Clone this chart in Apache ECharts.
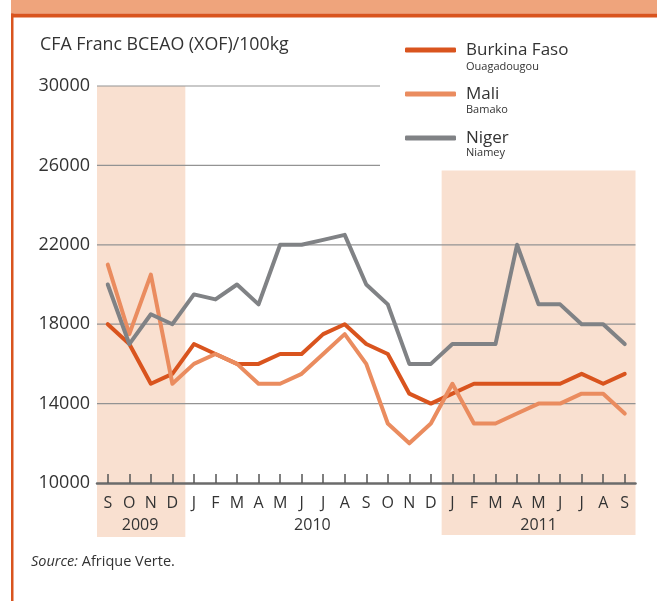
<!DOCTYPE html>
<html>
<head>
<meta charset="utf-8">
<script src="https://cdn.jsdelivr.net/npm/echarts@6/dist/echarts.min.js"></script>
<style>
html,body{margin:0;padding:0;background:#fff;}
#c{width:657px;height:601px;}
</style>
</head>
<body>
<div id="c"></div>
<script>
const categories = ['2009-09','2009-10','2009-11','2009-12','2010-01','2010-02','2010-03','2010-04','2010-05','2010-06','2010-07','2010-08','2010-09','2010-10','2010-11','2010-12','2011-01','2011-02','2011-03','2011-04','2011-05','2011-06','2011-07','2011-08','2011-09'];
const monthLabels = ['S','O','N','D','J','F','M','A','M','J','J','A','S','O','N','D','J','F','M','A','M','J','J','A','S'];
const burkina = [18000,17000,15000,15500,17000,16500,16000,16000,16500,16500,17500,18000,17000,16500,14500,14000,14500,15000,15000,15000,15000,15000,15500,15000,15500];
const mali = [21000,17500,20500,15000,16000,16500,16000,15000,15000,15500,16500,17500,16000,13000,12000,13000,15000,13000,13000,13500,14000,14000,14500,14500,13500];
const niger = [20000,17000,18500,18000,19500,19250,20000,19000,22000,22000,22250,22500,20000,19000,16000,16000,17000,17000,17000,22000,19000,19000,18000,18000,17000];
const yTicks = [10000,14000,18000,22000,26000,30000];
const seriesNames = ['Burkina Faso','Mali','Niger'];
const cities = ['Ouagadougou','Bamako','Niamey'];
const years = [{label:'2009',from:0,to:3},{label:'2010',from:4,to:15},{label:'2011',from:16,to:24}];

const FONT = '"Open Sans", sans-serif';
const colors = ['#d9541e','#ea8c5f','#808285'];

const chart = echarts.init(document.getElementById('c'), null, {renderer:'canvas'});
const option = {
  animation:false,
  color:colors,
  textStyle:{fontFamily:FONT},
  grid:{left:97,right:21.5,top:86,bottom:118,containLabel:false},
  legend:{
    orient:'vertical', left:405, top:40, padding:0,
    data:seriesNames,
    icon:'roundRect', itemWidth:51, itemHeight:5, itemGap:24,
    textStyle:{fontFamily:FONT,fontSize:17,color:'#333',lineHeight:20,padding:[0,0,0,5]},
    selectedMode:false
  },
  xAxis:{
    type:'category', data:categories, boundaryGap:true,
    axisLine:{lineStyle:{color:'#6b6b6b',width:2.5}},
    axisTick:{show:true,alignWithLabel:true,inside:true,length:9,lineStyle:{color:'#555',width:1.5}},
    axisLabel:{interval:0,margin:12,fontFamily:FONT,fontSize:16,color:'#333',
      formatter:(v,i)=>monthLabels[i]},
    splitLine:{show:false}
  },
  yAxis:{
    type:'value', min:10000, max:30000, interval:4000,
    axisLine:{show:false}, axisTick:{show:false},
    axisLabel:{margin:7,fontFamily:FONT,fontSize:18,color:'#333',formatter:v=>String(v)},
    splitLine:{show:false}
  },
  series:[
    {name:seriesNames[0],type:'line',data:burkina,symbol:'none',lineStyle:{width:4,color:colors[0],cap:'round',join:'round'},itemStyle:{color:colors[0]},z:3},
    {name:seriesNames[1],type:'line',data:mali,symbol:'none',lineStyle:{width:4,color:colors[1],cap:'round',join:'round'},itemStyle:{color:colors[1]},z:4},
    {name:seriesNames[2],type:'line',data:niger,symbol:'none',lineStyle:{width:4,color:colors[2],cap:'round',join:'round'},itemStyle:{color:colors[2]},z:5}
  ]
};
chart.setOption(option);

const px = i => chart.convertToPixel({xAxisIndex:0}, i);
const py = v => chart.convertToPixel({yAxisIndex:0}, v);
const bw = px(1) - px(0);
const xStart = px(0) - bw/2;
const xEnd = px(categories.length-1) + bw/2;
const axisY = py(10000);
const g = [];
// frame
g.push({type:'rect',shape:{x:11,y:0,width:646,height:13.5},style:{fill:'#efa47c'},z:0});
g.push({type:'rect',shape:{x:11,y:13.5,width:646,height:4},style:{fill:'#d9541e'},z:0});
g.push({type:'rect',shape:{x:11,y:13.5,width:2.5,height:601},style:{fill:'#d9541e'},z:0});
// shading
g.push({type:'rect',shape:{x:xStart,y:py(30000),width:(px(years[0].to)+bw*0.6)-xStart,height:axisY+54-py(30000)},style:{fill:'#f9e0d0'},z:-5});
g.push({type:'rect',shape:{x:px(years[2].from)-bw/2,y:py(26000)+5,width:xEnd-(px(years[2].from)-bw/2),height:axisY+52-py(26000)-5},style:{fill:'#f9e0d0'},z:-5});
// gridlines
yTicks.forEach(v=>{
  if(v===10000) return;
  const right = v>=26000 ? 380 : xEnd;
  g.push({type:'line',shape:{x1:xStart,y1:py(v),x2:right,y2:py(v)},style:{stroke:'#939393',lineWidth:1.2},z:-1});
});
// year labels
years.forEach(y=>{
  g.push({type:'text',x:(px(y.from)+px(y.to))/2,y:axisY+42,style:{text:y.label,fontFamily:FONT,fontSize:16,fill:'#333',align:'center',verticalAlign:'middle'},z:10});
});
// title
g.push({type:'text',x:40,y:45,style:{text:'CFA Franc BCEAO (XOF)/100kg',fontFamily:FONT,fontSize:17.8,fill:'#333',verticalAlign:'middle'},z:10});
// legend subtitles
cities.forEach((c,i)=>{
  g.push({type:'text',x:466,y:67+i*43,style:{text:c,fontFamily:FONT,fontSize:11,fill:'#333',verticalAlign:'middle'},z:10});
});
// source
g.push({type:'text',x:31,y:562,style:{text:'{i|Source:} Afrique Verte.',fontFamily:FONT,fontSize:14.5,fill:'#333',verticalAlign:'middle',rich:{i:{fontStyle:'italic',fontFamily:FONT,fontSize:14.5,fill:'#333'}}},z:10});
chart.setOption({graphic:g});
</script>
</body>
</html>
